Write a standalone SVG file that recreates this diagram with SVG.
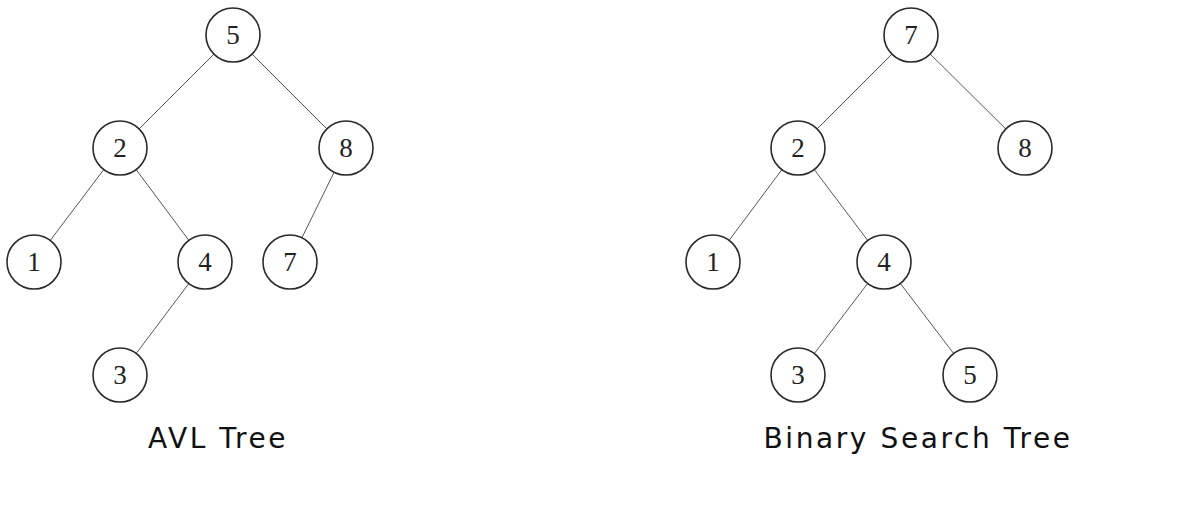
<svg xmlns="http://www.w3.org/2000/svg" width="1192" height="512" viewBox="0 0 1192 512">
<style>
.n circle{fill:#fff;stroke:#2a2a2a;stroke-width:1.6}
.n text{font-family:"Liberation Serif",serif;font-size:27px;fill:#222;text-anchor:middle}
.e line{stroke:#444;stroke-width:0.9}
.lbl{font-family:"DejaVu Sans",sans-serif;font-size:28px;fill:#111;text-anchor:middle;letter-spacing:2.6px}
</style>
<rect width="1192" height="512" fill="#fff"/>
<g id="connectors" class="e">
<line x1="233" y1="35" x2="120" y2="148"/>
<line x1="233" y1="35" x2="346" y2="148"/>
<line x1="120" y1="148" x2="34" y2="262"/>
<line x1="120" y1="148" x2="205" y2="262"/>
<line x1="346" y1="148" x2="290" y2="262"/>
<line x1="205" y1="262" x2="120" y2="375"/>
<line x1="911" y1="35" x2="798" y2="148"/>
<line x1="911" y1="35" x2="1025" y2="148"/>
<line x1="798" y1="148" x2="713" y2="262"/>
<line x1="798" y1="148" x2="884" y2="262"/>
<line x1="884" y1="262" x2="798" y2="375"/>
<line x1="884" y1="262" x2="970" y2="375"/>
</g>
<g id="avl5" class="n"><circle cx="233" cy="35" r="27"/><text x="233" y="44">5</text></g>
<g id="avl2" class="n"><circle cx="120" cy="148" r="27"/><text x="120" y="157">2</text></g>
<g id="avl8" class="n"><circle cx="346" cy="148" r="27"/><text x="346" y="157">8</text></g>
<g id="avl1" class="n"><circle cx="34" cy="262" r="27"/><text x="34" y="271">1</text></g>
<g id="avl4" class="n"><circle cx="205" cy="262" r="27"/><text x="205" y="271">4</text></g>
<g id="avl7" class="n"><circle cx="290" cy="262" r="27"/><text x="290" y="271">7</text></g>
<g id="avl3" class="n"><circle cx="120" cy="375" r="27"/><text x="120" y="384">3</text></g>
<g id="bst7" class="n"><circle cx="911" cy="35" r="27"/><text x="911" y="44">7</text></g>
<g id="bst2" class="n"><circle cx="798" cy="148" r="27"/><text x="798" y="157">2</text></g>
<g id="bst8" class="n"><circle cx="1025" cy="148" r="27"/><text x="1025" y="157">8</text></g>
<g id="bst1" class="n"><circle cx="713" cy="262" r="27"/><text x="713" y="271">1</text></g>
<g id="bst4" class="n"><circle cx="884" cy="262" r="27"/><text x="884" y="271">4</text></g>
<g id="bst3" class="n"><circle cx="798" cy="375" r="27"/><text x="798" y="384">3</text></g>
<g id="bst5" class="n"><circle cx="970" cy="375" r="27"/><text x="970" y="384">5</text></g>
<text class="lbl" x="218" y="448">AVL Tree</text>
<text class="lbl" x="918" y="448">Binary Search Tree</text>
</svg>
